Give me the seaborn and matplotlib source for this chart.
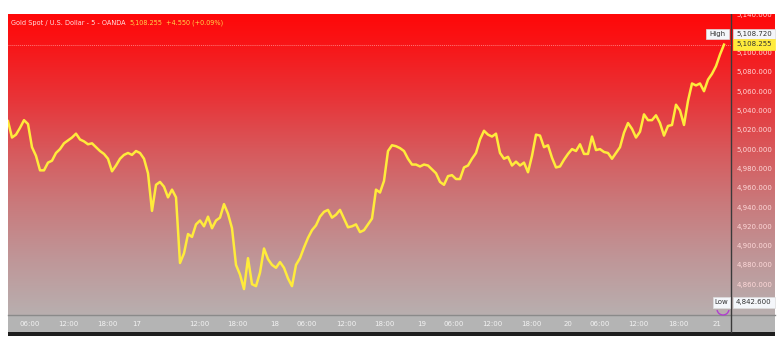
import numpy as np
import matplotlib
matplotlib.use("Agg")
import matplotlib.pyplot as plt
import seaborn as sns
from matplotlib.patches import Rectangle, Arc

# ---------------- data ----------------
prices = [
    5029, 5012, 5015, 5022, 5030, 5026, 5002, 4993, 4978, 4978,
    4986, 4988, 4996, 5000, 5006, 5009, 5012, 5016, 5010, 5008,
    5005, 5006, 5002, 4998, 4995, 4990, 4977, 4983, 4990, 4994,
    4996, 4994, 4998, 4996, 4990, 4975, 4936, 4963, 4966, 4961,
    4950, 4958, 4950, 4882, 4892, 4912, 4909, 4922, 4926, 4920,
    4930, 4918, 4926, 4929, 4943, 4933, 4918, 4880, 4870, 4855,
    4887, 4860, 4858, 4872, 4897, 4886, 4880, 4877, 4883, 4877,
    4866, 4858, 4880, 4887, 4898, 4908, 4916, 4921, 4930, 4935,
    4937, 4929, 4932, 4937, 4928, 4919, 4920, 4922, 4914, 4916,
    4922, 4928, 4958, 4955, 4967, 4998, 5004, 5003, 5001, 4998,
    4990, 4984, 4984, 4982, 4984, 4983, 4979, 4975, 4966, 4963,
    4972, 4973, 4969, 4969, 4981, 4983, 4990, 4996, 5010, 5019,
    5015, 5013, 5016, 4996, 4990, 4992, 4983, 4987, 4983, 4986,
    4976, 4993, 5015, 5014, 5002, 5004, 4991, 4981, 4982, 4989,
    4995, 5000, 4998, 5005, 4995, 4995, 5013, 4999, 5000, 4997,
    4996, 4990, 4996, 5002, 5017, 5027, 5021, 5012, 5018, 5036,
    5030, 5030, 5035, 5027, 5014, 5024, 5025, 5046, 5040, 5025,
    5050, 5068, 5066, 5068, 5060, 5072, 5078, 5086, 5098, 5108.255,
]
x_tick_pos = [5.5, 15, 24.75, 32.25, 47.75, 57.25, 66.75, 74.75, 84.5, 94,
              103.5, 111.5, 121, 130.75, 140, 148, 157.5, 167.5, 177.25]
x_tick_labels = ["06:00", "12:00", "18:00", "17", "12:00", "18:00", "18",
                 "06:00", "12:00", "18:00", "19", "06:00", "12:00", "18:00",
                 "20", "06:00", "12:00", "18:00", "21"]
y_ticks = [4860, 4880, 4900, 4920, 4940, 4960, 4980, 5000, 5020, 5040,
           5060, 5080, 5100, 5120, 5140]
title = "Gold Spot / U.S. Dollar - 5 - OANDA"
last_price = 5108.255
change = 4.550
change_pct = 0.09
high_price = 5108.720
low_price = 4842.600

# ---------------- layout (pixels) ----------------
W, H = 780, 342
L, R, T, B = 8, 731, 14, 315
RA = 775
STRIP_B = 332

def fx(px):
    return px / W

def fy(py):
    return 1 - py / H

plt.rcParams["font.family"] = ["DejaVu Sans"]
fig = plt.figure(figsize=(7.8, 3.42), dpi=100, facecolor="white")

# gradient background (plot + price scale)
bg = fig.add_axes([fx(L), fy(B), fx(RA - L), (B - T) / H])
stops_y = np.array([0.0, 0.08, 0.28, 0.45, 0.62, 0.80, 1.0])
stops_c = np.array([
    [255, 8, 8], [250, 18, 20], [232, 52, 56], [216, 88, 91],
    [202, 120, 122], [192, 148, 150], [184, 175, 175]]) / 255.0
ys = np.linspace(0, 1, 300)
grad = np.stack([np.interp(ys, stops_y, stops_c[:, k]) for k in range(3)], axis=1)
bg.imshow(grad[:, None, :], aspect="auto", extent=[0, 1, 1, 0])
bg.set_axis_off()

# x-axis strip
fig.patches.append(Rectangle((fx(L), fy(STRIP_B)), fx(RA - L), (STRIP_B - B) / H,
                             transform=fig.transFigure, facecolor="#b4b4b4",
                             edgecolor="none", zorder=-1))
fig.patches.append(Rectangle((fx(L), fy(STRIP_B + 4)), fx(RA - L), 4 / H,
                             transform=fig.transFigure, facecolor="#1e1e1e",
                             edgecolor="none", zorder=-1))

# main axes
ax = fig.add_axes([fx(L), fy(B), fx(R - L), (B - T) / H])
ax.patch.set_alpha(0)
idx = np.arange(len(prices))
sns.lineplot(x=idx, y=prices, ax=ax, color="#FFEB3B", linewidth=1.8, zorder=5)
ax.axhline(last_price, color="#ff7a7a", linewidth=0.7, linestyle=(0, (1, 1)), zorder=3)
ax.set_xlim(0, (R - L) / 4)
ax.set_ylim(4828.1, 5138.5)
for s in ax.spines.values():
    s.set_visible(False)
ax.yaxis.tick_right()
ax.set_yticks(y_ticks)
ax.set_yticklabels([f"{v:,.3f}" for v in y_ticks])
ax.set_xticks(x_tick_pos)
ax.set_xticklabels(x_tick_labels)
ax.tick_params(axis="y", length=0, pad=4, labelsize=5, labelcolor="#ffd9d9")
ax.tick_params(axis="x", length=0, pad=4.5, labelsize=5, labelcolor="#f2f2f2")
ax.set_xlabel("")
ax.set_ylabel("")

# separators
fig.add_artist(plt.Line2D([fx(L), fx(RA)], [fy(B), fy(B)], transform=fig.transFigure,
                          color="#8a8a8a", linewidth=1.0, zorder=2))
fig.add_artist(plt.Line2D([fx(R), fx(R)], [fy(T), fy(STRIP_B)], transform=fig.transFigure,
                          color="#3a3a3a", linewidth=1.0, zorder=6))

# white mask above chart
fig.patches.append(Rectangle((0, fy(T)), 1, T / H, transform=fig.transFigure,
                             facecolor="white", edgecolor="none", zorder=10))

# title line, laid out left to right
renderer = fig.canvas.get_renderer()
pieces = [(title, "#ffe2e2"), (f"{last_price:,.3f}", "#ffd54a"),
          (f"+{change:.3f} (+{change_pct:.2f}%)", "#ffd54a")]
xpos = 11
for txt, col in pieces:
    t = fig.text(fx(xpos), fy(22.5), txt, color=col, fontsize=4.7, va="center", zorder=11)
    w = t.get_window_extent(renderer=renderer).width
    xpos += w + 4

def box(x0, y0, x1, y1, fc, text, tc="#333333", ec="#dddddd"):
    fig.patches.append(Rectangle((fx(x0), fy(y1)), fx(x1 - x0), (y1 - y0) / H,
                                 transform=fig.transFigure, facecolor=fc,
                                 edgecolor=ec, linewidth=0.5, zorder=12))
    fig.text(fx((x0 + x1) / 2), fy((y0 + y1) / 2), text, color=tc, fontsize=5,
             ha="center", va="center", zorder=13)

box(706, 29, 729, 38.5, "#f4f6fa", "High")
box(733, 28.5, 775, 39, "#f4f6fa", f"{high_price:,.3f}")
box(733, 39, 775, 49.5, "#ffeb3b", f"{last_price:,.3f}", ec="#ffeb3b")
box(713, 297, 730, 307.5, "#f4f6fa", "Low")
box(733, 296.5, 775, 307.5, "#f4f6fa", f"{low_price:,.3f}")

# small purple marker under the low label
fig.add_artist(Arc((fx(723), fy(309)), 12 / W, 12 / H, theta1=200, theta2=340,
                   transform=fig.transFigure, color="#b03fd0", linewidth=1.0, zorder=12))

fig.savefig("out.png", dpi=100, facecolor="white")
